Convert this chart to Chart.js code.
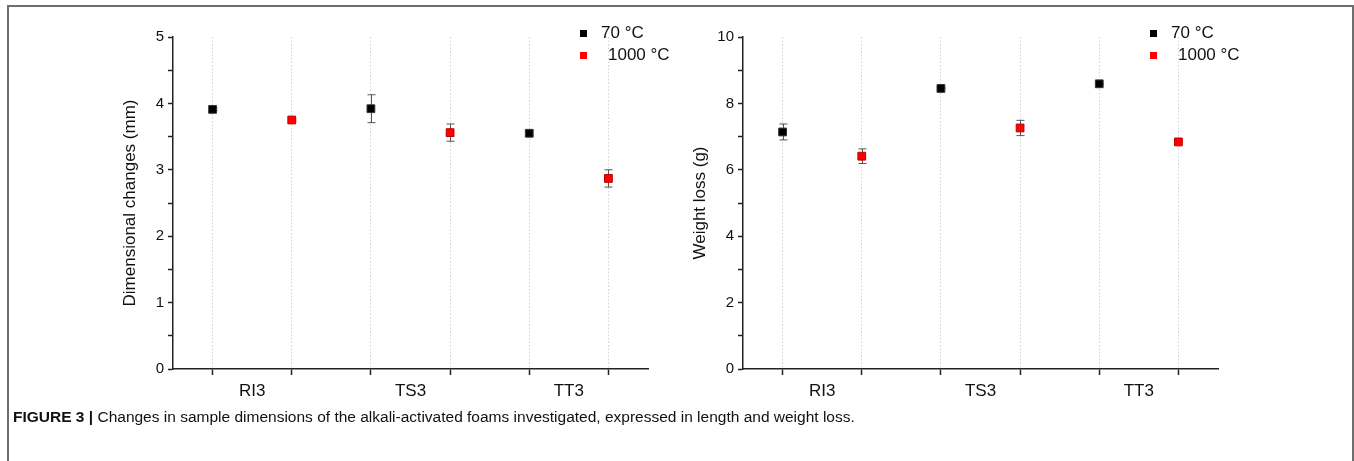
<!DOCTYPE html>
<html>
<head>
<meta charset="utf-8">
<title>Figure 3</title>
<script src="https://cdn.jsdelivr.net/npm/chart.js@4"></script>
<style>
  body { margin: 0; background: #fff; width: 1354px; height: 461px; overflow: hidden; position: relative; font-family: 'Liberation Sans', Arial, sans-serif; }
  .frame { position: absolute; left: 7px; top: 5px; width: 1347px; height: 470px; border: 2px solid #6e6e6e; border-bottom: none; box-sizing: border-box; }
  .panel { position: absolute; top: 0; width: 680px; height: 410px; }
  #caption { position: absolute; left: 13px; top: 408px; font-size: 15.5px; color: #111; white-space: nowrap; }
</style>
</head>
<body>
<div class="frame"></div>
<div class="panel" style="left:0px"><canvas id="dimChart"></canvas></div>
<div class="panel" style="left:570px"><canvas id="weightChart"></canvas></div>
<div id="caption"><b>FIGURE 3 |</b> Changes in sample dimensions of the alkali-activated foams investigated, expressed in length and weight loss.</div>

<script>
// samples, each has a 70 C point and a 1000 C point next to it
const categories = ['RI3', 'TS3', 'TT3'];
const pos70 = [1, 3, 5];
const pos1000 = [2, 4, 6];
const labelPos = [1.5, 3.5, 5.5];
const seriesLabels = ['70 °C', '1000 °C'];

// dimensional changes (mm)
const dim70 = [3.91, 3.92, 3.55];
const dim70Err = [0.02, 0.21, 0.04];
const dim1000 = [3.75, 3.56, 2.87];
const dim1000Err = [0.02, 0.13, 0.13];

// weight loss (g)
const wl70 = [7.14, 8.45, 8.59];
const wl70Err = [0.24, 0.02, 0.02];
const wl1000 = [6.41, 7.26, 6.84];
const wl1000Err = [0.22, 0.23, 0.03];

const FONT = "'Liberation Sans', Arial, sans-serif";

// little error bars, drawn under the squares
const errorBars = {
  id: 'errorBars',
  beforeDatasetsDraw(chart) {
    const { ctx, scales: { x, y } } = chart;
    ctx.save();
    ctx.strokeStyle = '#555';
    ctx.lineWidth = 1;
    chart.data.datasets.forEach(ds => {
      ds.data.forEach(p => {
        const px = Math.round(x.getPixelForValue(p.x)) + 0.5;
        const top = y.getPixelForValue(p.y + p.err);
        const bot = y.getPixelForValue(p.y - p.err);
        ctx.beginPath();
        ctx.moveTo(px, top); ctx.lineTo(px, bot);
        ctx.moveTo(px - 4, top); ctx.lineTo(px + 4, top);
        ctx.moveTo(px - 4, bot); ctx.lineTo(px + 4, bot);
        ctx.stroke();
      });
    });
    ctx.restore();
  }
};

// legend in the top right corner like the origin plot
const cornerLegend = {
  id: 'cornerLegend',
  afterDraw(chart) {
    const { ctx, chartArea } = chart;
    const textGap = [18, 25];
    ctx.save();
    ctx.font = '17px ' + FONT;
    ctx.textBaseline = 'middle';
    chart.data.datasets.forEach((ds, i) => {
      const x = chartArea.right - 65;
      const y = chartArea.top - 4 + i * 22;
      ctx.fillStyle = ds.backgroundColor;
      ctx.fillRect(x - 3, y - 3, 7, 7);
      ctx.fillStyle = '#111';
      ctx.fillText(ds.label, x + textGap[i], y);
    });
    ctx.restore();
  }
};

const toPoints = (xs, ys, errs) => xs.map((x, i) => ({ x: x, y: ys[i], err: errs[i] }));

function makeChart(id, yTitle, yMax, majorStep, v70, e70, v1000, e1000) {
  const ctx = document.getElementById(id).getContext('2d');
  return new Chart(ctx, {
    type: 'scatter',
    data: {
      datasets: [
        {
          label: seriesLabels[0],
          data: toPoints(pos70, v70, e70),
          backgroundColor: '#000000',
          borderColor: '#333333',
          borderWidth: 1,
          pointStyle: 'rect',
          pointRadius: 5.5
        },
        {
          label: seriesLabels[1],
          data: toPoints(pos1000, v1000, e1000),
          backgroundColor: '#ff0000',
          borderColor: '#c00000',
          borderWidth: 1,
          pointStyle: 'rect',
          pointRadius: 5.5
        }
      ]
    },
    options: {
      responsive: true,
      maintainAspectRatio: false,
      animation: false,
      layout: { padding: { left: 110, top: 37, right: 32, bottom: 0 } },
      plugins: {
        legend: { display: false },
        tooltip: { enabled: false }
      },
      scales: {
        x: {
          type: 'linear',
          min: 0.5,
          max: 6.5,
          afterBuildTicks: scale => {
            scale.ticks = [1, 1.5, 2, 3, 3.5, 4, 5, 5.5, 6].map(v => ({ value: v }));
          },
          afterFit: scale => { scale.height = 41; },
          ticks: {
            autoSkip: false,
            maxRotation: 0,
            padding: 6,
            color: '#111',
            font: { family: FONT, size: 17 },
            callback: value => {
              const i = labelPos.indexOf(value);
              return i >= 0 ? categories[i] : '';
            }
          },
          grid: {
            color: c => (c.tick && Number.isInteger(c.tick.value)) ? '#d2d2d2' : 'rgba(0,0,0,0)',
            tickColor: c => (c.tick && Number.isInteger(c.tick.value)) ? '#222' : 'rgba(0,0,0,0)',
            lineWidth: 1,
            tickWidth: 1.5,
            tickLength: 6
          },
          border: { color: '#222', width: 1.5, dash: [1.5, 2] }
        },
        y: {
          min: 0,
          max: yMax,
          afterFit: scale => { scale.width = 63; },
          ticks: {
            stepSize: yMax / 10,
            padding: 4,
            color: '#111',
            font: { family: FONT, size: 15 },
            callback: v => (Math.abs(v / majorStep - Math.round(v / majorStep)) < 1e-6) ? v : ''
          },
          grid: {
            drawOnChartArea: false,
            tickColor: '#222',
            tickWidth: 1.5,
            tickLength: 5
          },
          border: { color: '#222', width: 1.5 },
          title: {
            display: true,
            text: yTitle,
            color: '#111',
            font: { family: FONT, size: 17 },
            padding: { top: 10, bottom: 0 }
          }
        }
      }
    },
    plugins: [errorBars, cornerLegend]
  });
}

makeChart('dimChart', 'Dimensional changes (mm)', 5, 1, dim70, dim70Err, dim1000, dim1000Err);
makeChart('weightChart', 'Weight loss (g)', 10, 2, wl70, wl70Err, wl1000, wl1000Err);
</script>
</body>
</html>
